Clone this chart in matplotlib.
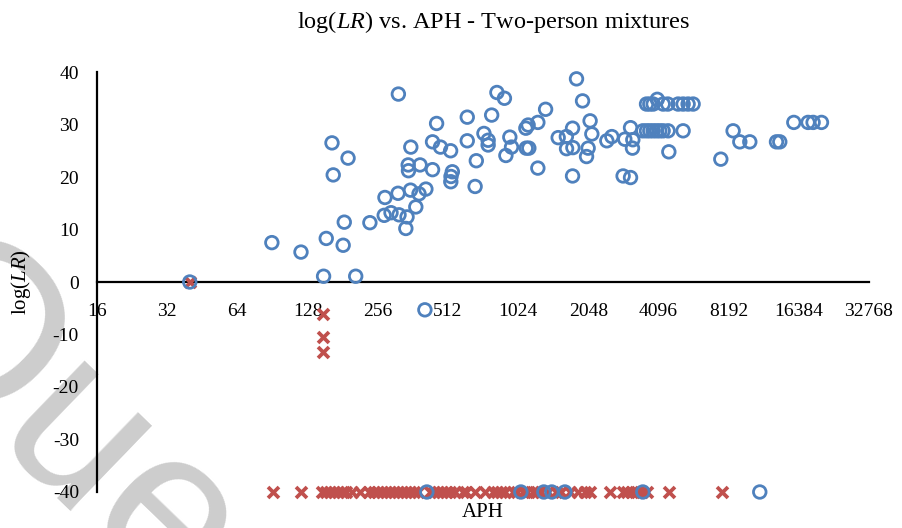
import matplotlib.pyplot as plt

plt.rcParams['font.family'] = 'Liberation Serif'
plt.rcParams['mathtext.fontset'] = 'custom'
plt.rcParams['mathtext.rm'] = 'Liberation Serif'
plt.rcParams['mathtext.it'] = 'Liberation Serif:italic'
plt.rcParams['axes.unicode_minus'] = False

# Two-person mixtures: APH (x) and log(LR) (y)
blue_aph = [40, 90, 120, 150, 206, 154, 182, 184, 163, 191, 165, 237, 314, 275, 313,
            354, 412, 385, 373, 273, 292, 316, 342, 338, 355, 346, 347, 389, 440, 440,
            458, 476, 526, 535, 528, 527, 620, 620, 678, 670, 731, 762, 762, 789, 831,
            895, 944, 960, 908, 1131, 1106, 1110, 1139, 1245, 1344, 1245, 1522, 1650,
            1754, 1653, 1760, 1824, 1936, 2086, 2122, 2046, 2014, 1754, 2461, 2586,
            2939, 3110, 3181, 3170, 2890, 3110,
            3642, 3762, 3888, 4291, 4494, 4976, 5227, 5491, 5770, 4050,
            3512, 3642, 3762, 3888, 4020, 4153, 4291, 4507, 5227,
            4540, 7585, 8565, 9152, 10100, 13146, 13581, 15600, 17955, 18874, 20500,
            408, 416, 1053, 1321, 1429, 1626, 3512, 11146]
blue_lr = [0, 7.5, 5.7, 1.1, 1.1, 8.3, 7.0, 11.4, 26.5, 23.6, 20.4, 11.3, 35.8, 16.1, 16.9,
           17.5, 17.7, 16.8, 14.3, 12.7, 13.2, 12.8, 12.4, 10.2, 25.7, 22.3, 21.2, 22.3, 21.4, 26.7,
           30.2, 25.7, 25.0, 21.0, 20.1, 19.1, 31.4, 26.9, 23.1, 18.2, 28.3, 27.0, 26.1, 31.8, 36.1,
           35.0, 27.6, 25.7, 24.1, 29.9, 29.3, 25.5, 25.5, 30.4, 32.9, 21.7, 27.5, 27.7,
           29.3, 25.4, 25.6, 38.7, 34.5, 30.7, 28.2, 25.5, 23.9, 20.2, 26.9, 27.7,
           27.2, 29.4, 27.1, 25.5, 20.2, 19.9,
           33.9, 33.9, 33.9, 33.9, 33.9, 33.9, 33.9, 33.9, 33.9, 34.8,
           28.8, 28.8, 28.8, 28.8, 28.8, 28.8, 28.8, 28.8, 28.8,
           24.8, 23.4, 28.8, 26.7, 26.7, 26.7, 26.7, 30.4, 30.4, 30.4, 30.4,
           -5.3, -40, -40, -40, -40, -40, -40, -40]

red_aph = [40, 148.5, 148.5, 148.5,
           91, 120, 147.5, 153.5, 159.7, 166, 172.8, 179.8, 187, 198.4, 214.7, 234.7,
           246.6, 256.5, 266.9, 277.6, 288.8, 300.5, 312.5, 325.1, 338.2, 351.9, 366.1,
           380.8, 428.7, 446, 464, 482.7, 502, 522, 548.7, 593.8, 611.5, 668.6, 737.7,
           798.4, 830.5, 864, 898.9, 972.8, 1012, 1073.6, 1116.8, 1185, 1233, 1283,
           1375, 1487, 1563, 1708, 1848, 1981, 2081, 2535, 2882, 2998, 3149, 3309,
           3477, 3653, 4540, 7660]
red_lr = [0, -6.0, -10.4, -13.3] + [-40] * (len(red_aph) - 4)

xticks = [16, 32, 64, 128, 256, 512, 1024, 2048, 4096, 8192, 16384, 32768]
yticks = [-40, -30, -20, -10, 0, 10, 20, 30, 40]

fig = plt.figure(figsize=(9.03, 5.28), dpi=100)
ax = fig.add_axes([0.1074, 0.0682, 0.8549, 0.7954])
ax.patch.set_alpha(0)

# faint watermark behind the chart
fig.text(0.062, 0.19, 'Que', family='Liberation Sans', fontsize=160, color='#cdcdcd',
         rotation=-44, rotation_mode='anchor', ha='center', va='center', zorder=-5)

ax.scatter(red_aph, red_lr, marker='x', s=62, color='#c0504d', linewidths=2.7,
           clip_on=False, zorder=3)
ax.scatter(blue_aph, blue_lr, marker='o', s=82, facecolors='none', edgecolors='#4f81bd',
           linewidths=2.0, clip_on=False, zorder=4)

ax.set_xscale('log', base=2)
ax.set_xlim(16, 32768)
ax.set_ylim(-40, 40)
ax.set_xticks(xticks)
ax.set_xticklabels([str(v) for v in xticks])
ax.set_yticks(yticks)
ax.minorticks_off()
ax.tick_params(length=0, labelsize=14)
ax.tick_params(axis='x', pad=15)
ax.tick_params(axis='y', pad=13)

ax.spines['top'].set_visible(False)
ax.spines['right'].set_visible(False)
ax.spines['bottom'].set_position(('data', 0))
for s in ('left', 'bottom'):
    ax.spines[s].set_linewidth(1.6)
    ax.spines[s].set_zorder(2)

ax.set_xlabel('APH', fontsize=15)
ax.xaxis.set_label_coords(0.5, -0.026)
ax.set_ylabel('log($LR$)', fontsize=15)
ax.yaxis.set_label_coords(-0.083, 0.5)

fig.text(0.547, 0.958, 'log($LR$) vs. APH - Two-person mixtures', fontsize=17.5,
         ha='center', va='center')

fig.savefig('out.png', dpi=100)
